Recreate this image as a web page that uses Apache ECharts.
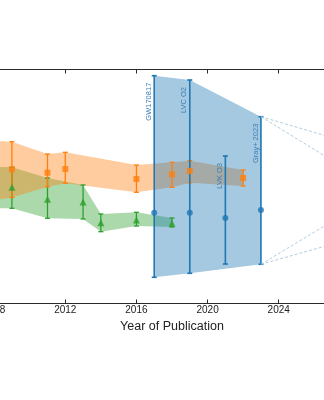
<!DOCTYPE html>
<html>
<head>
<meta charset="utf-8">
<script src="https://cdn.jsdelivr.net/npm/echarts@6/dist/echarts.min.js"></script>
<style>
html,body{margin:0;padding:0;background:#fff;overflow:hidden;width:324px;height:400px;}
#c{position:absolute;left:-20px;top:0;width:384px;height:400px;}
</style>
</head>
<body>
<div id="c"></div>
<script>
// ---- data (y in arbitrary units; the y axis is outside the visible crop) ----
const orangeYears = [2008, 2009, 2011, 2012, 2016, 2018, 2019, 2022];
const orangeMid   = [133.5, 134.2, 130.8, 134.5, 124.5, 129.2, 132.5, 125.5];
const orangeLow   = [103.5, 106.0, 116.8, 120.2, 111.2, 116.2, 120.8, 117.5];
const orangeHigh  = [162.5, 161.8, 149.5, 151.2, 138.5, 141.2, 142.8, 133.5];

const greenYears = [2008, 2009, 2011, 2013, 2014, 2016, 2018];
const greenMid   = [116.0, 116.2, 104.2, 101.5, 80.8, 83.5, 80.2];
const greenLow   = [95.2, 95.2, 85.2, 84.5, 71.8, 77.5, 76.5];
const greenHigh  = [136.8, 136.2, 125.5, 118.5, 89.5, 91.2, 85.5];

const gwYears = [2017, 2019, 2021, 2023];
const gwNames = ['GW170817', 'LVC O2', 'LVK O3', 'Gray+ 2023'];
const gwMid   = [90.8, 90.8, 85.5, 93.5];
const gwLow   = [26.2, 30.2, 39.5, 39.2];
const gwHigh  = [227.8, 223.5, 147.5, 186.8];

const gwBandYears = [2017, 2019, 2023];
const gwBandLow   = [26.2, 30.2, 39.2];
const gwBandHigh  = [227.8, 223.5, 186.8];

const projYears       = [2023, 2027];
const projUpperWide   = [186.8, 165.9];
const projUpperNarrow = [186.8, 143.0];
const projLowerWide   = [39.2, 59.3];
const projLowerNarrow = [39.2, 82.2];

const xTicks = [2008, 2012, 2016, 2020, 2024, 2028];
const xTitle = 'Year of Publication';

// ---- helpers ----
function bandSeries(xs, lo, hi, color) {
  return {
    type: 'custom', silent: true,
    data: xs.map((x, i) => [x, lo[i], hi[i]]),
    renderItem: function (params, api) {
      if (params.dataIndex !== 0) return null;
      const pts = [];
      for (let i = 0; i < xs.length; i++) pts.push(api.coord([xs[i], hi[i]]));
      for (let i = xs.length - 1; i >= 0; i--) pts.push(api.coord([xs[i], lo[i]]));
      return { type: 'polygon', shape: { points: pts }, style: { fill: color } };
    }
  };
}
function errSeries(xs, lo, hi, color, lw, cap, labels) {
  return {
    type: 'custom', silent: true,
    data: xs.map((x, i) => [x, lo[i], hi[i]]),
    renderItem: function (params, api) {
      const i = params.dataIndex;
      const a = api.coord([xs[i], hi[i]]);
      const b = api.coord([xs[i], lo[i]]);
      const st = { stroke: color, lineWidth: lw };
      const ch = [
        { type: 'line', shape: { x1: a[0], y1: a[1], x2: b[0], y2: b[1] }, style: st },
        { type: 'line', shape: { x1: a[0] - cap, y1: a[1], x2: a[0] + cap, y2: a[1] }, style: st },
        { type: 'line', shape: { x1: b[0] - cap, y1: b[1], x2: b[0] + cap, y2: b[1] }, style: st }
      ];
      if (labels) {
        ch.push({
          type: 'text', x: a[0] - 5.5, y: a[1] + 7, rotation: Math.PI / 2,
          style: { text: labels[i], fill: '#3a7fb4', font: '7.5px "Liberation Sans", Arial, sans-serif',
                   align: 'right', verticalAlign: 'middle' }
        });
      }
      return { type: 'group', children: ch };
    }
  };
}
function projSeries(ys) {
  return {
    type: 'line', silent: true, symbol: 'none',
    data: projYears.map((x, i) => [x, ys[i]]),
    lineStyle: { color: '#a9c7dc', width: 0.9, type: [3, 2] }
  };
}

const axisCommon = {
  type: 'value', min: 2008, max: 2028, interval: 4,
  splitLine: { show: false },
  axisLine: { show: true, lineStyle: { color: '#2a2a2a', width: 1.1 } },
  axisTick: { show: true, inside: true, length: 4, lineStyle: { color: '#2a2a2a' } }
};

const chart = echarts.init(document.getElementById('c'), null, { renderer: 'canvas' });
chart.setOption({
  animation: false,
  backgroundColor: '#fff',
  grid: { left: 9.9, right: 14.1, top: 69.5, bottom: 96.5 },
  xAxis: [
    Object.assign({}, axisCommon, {
      position: 'bottom',
      name: xTitle, nameLocation: 'middle', nameGap: 8,
      nameTextStyle: { fontFamily: 'Liberation Sans', fontSize: 12.5, color: '#222' },
      axisLabel: { margin: 2, fontFamily: 'Liberation Sans', fontSize: 10, color: '#222',
                   formatter: v => xTicks.indexOf(v) >= 0 ? String(v) : '' }
    }),
    Object.assign({}, axisCommon, { position: 'top', axisLabel: { show: false } })
  ],
  yAxis: { type: 'value', min: 0, max: 234, show: false },
  series: [
    bandSeries(greenYears, greenLow, greenHigh, 'rgba(44,160,44,0.4)'),
    bandSeries(orangeYears, orangeLow, orangeHigh, 'rgba(255,127,14,0.4)'),
    bandSeries(gwBandYears, gwBandLow, gwBandHigh, 'rgba(31,119,180,0.4)'),
    projSeries(projUpperWide),
    projSeries(projUpperNarrow),
    projSeries(projLowerWide),
    projSeries(projLowerNarrow),
    errSeries(greenYears, greenLow, greenHigh, '#2ca02c', 1.3, 2.5),
    errSeries(orangeYears, orangeLow, orangeHigh, '#ff7f0e', 1.3, 2.5),
    errSeries(gwYears, gwLow, gwHigh, '#1f77b4', 1.6, 2.5, gwNames),
    { type: 'scatter', silent: true, symbol: 'triangle', symbolSize: 7,
      itemStyle: { color: '#2ca02c' }, data: greenYears.map((x, i) => [x, greenMid[i]]) },
    { type: 'scatter', silent: true, symbol: 'rect', symbolSize: 6,
      itemStyle: { color: '#ff7f0e' }, data: orangeYears.map((x, i) => [x, orangeMid[i]]) },
    { type: 'scatter', silent: true, symbol: 'circle', symbolSize: 6,
      itemStyle: { color: '#1f77b4' }, data: gwYears.map((x, i) => [x, gwMid[i]]) }
  ]
});
</script>
</body>
</html>
